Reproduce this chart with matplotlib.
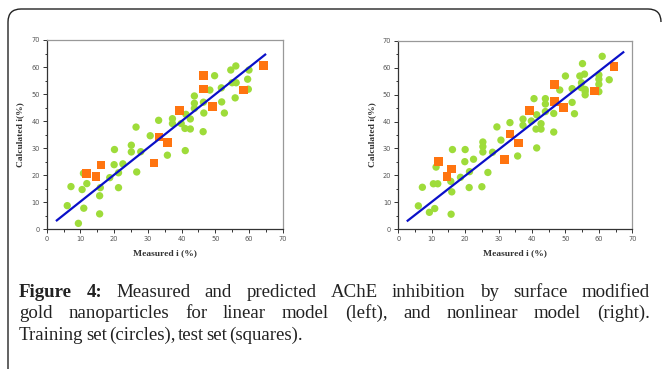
import numpy as np
import matplotlib.pyplot as plt
from matplotlib.path import Path
from matplotlib.patches import PathPatch
from matplotlib.ticker import MultipleLocator

# Datos (modelo lineal - izquierda)
lin_train_x = [6.1, 7.2, 9.4, 10.5, 11.0, 10.9, 11.9, 15.7, 15.7, 15.9, 18.7, 20.1, 20.0, 21.3, 21.3,
               22.6, 25.1, 25.1, 26.5, 26.7, 27.9, 30.7, 33.2, 35.8, 37.3, 37.3, 39.9, 41.0, 41.1, 41.3,
               42.6, 42.6, 43.8, 43.8, 43.8, 46.5, 46.6, 46.4, 48.4, 49.8, 51.8, 51.9, 52.7, 54.6, 55.0,
               56.1, 56.2, 55.9, 59.6, 59.8, 60.0]
lin_train_y = [8.75, 15.8, 2.2, 14.7, 7.8, 20.7, 16.9, 5.7, 12.4, 15.4, 19.1, 29.5, 23.9, 20.9, 15.4,
               24.2, 31.1, 28.6, 37.8, 21.2, 28.7, 34.6, 40.3, 27.4, 40.9, 39.1, 39.1, 37.3, 29.1, 42.5,
               40.8, 37.1, 49.3, 46.6, 44.7, 47.0, 43.0, 36.1, 51.5, 56.8, 52.3, 47.1, 43.0, 58.9, 54.2,
               60.4, 54.2, 48.6, 55.5, 51.8, 58.9]
lin_test_x = [11.9, 14.6, 16.1, 31.8, 33.3, 35.9, 39.3, 46.6, 46.6, 49.2, 58.4, 64.2]
lin_test_y = [20.7, 19.5, 23.8, 24.5, 34.1, 32.2, 44.0, 56.8, 51.9, 45.5, 51.5, 60.5]
lin_line_x = [3.0, 64.8]
lin_line_y = [3.3, 64.6]

# Modelo no lineal - derecha
nl_train_x = [6.0, 7.2, 9.3, 10.5, 10.9, 11.3, 11.8, 15.8, 16.0, 15.7, 16.2, 18.6, 19.9, 20.0, 21.2,
              21.3, 22.5, 25.0, 25.3, 25.3, 25.3, 26.8, 28.2, 29.5, 30.7, 33.4, 35.7, 37.3, 37.3, 39.8,
              40.6, 41.2, 41.4, 41.4, 42.7, 42.7, 44.0, 44.0, 44.0, 46.5, 46.5, 48.3, 50.0, 52.0, 52.0,
              52.7, 54.3, 55.1, 54.8, 54.7, 55.7, 55.9, 55.9, 55.9, 60.0, 60.0, 60.0, 60.0, 63.1, 61.0]
nl_train_y = [8.7, 15.6, 6.3, 16.9, 7.7, 23.1, 16.9, 5.6, 13.9, 17.8, 29.6, 19.3, 25.1, 29.6, 15.5,
              21.4, 26.0, 15.8, 32.4, 30.7, 28.7, 21.1, 28.6, 38.0, 33.1, 39.6, 27.2, 40.9, 38.6, 40.2,
              48.5, 37.2, 30.2, 42.5, 39.2, 37.2, 48.5, 46.5, 43.7, 43.0, 36.1, 51.7, 56.9, 52.2, 47.1,
              42.9, 56.9, 61.5, 54.4, 52.6, 57.6, 51.9, 51.1, 49.9, 57.3, 55.7, 53.8, 51.1, 55.5, 64.2]
nl_test_x = [12.0, 14.6, 16.0, 31.8, 33.4, 36.0, 39.3, 46.7, 46.7, 49.4, 58.6, 64.5]
nl_test_y = [25.1, 19.5, 22.4, 25.8, 35.4, 32.0, 44.0, 53.8, 47.5, 45.3, 51.3, 60.5]
nl_line_x = [2.8, 67.3]
nl_line_y = [3.2, 65.7]

W, H = 662, 369
fig = plt.figure(figsize=(W / 100, H / 100), dpi=100)


def px(x0, y0, x1, y1):
    # rectangulo en pixeles (arriba-izquierda) -> coordenadas de figura
    return [x0 / W, 1 - y1 / H, (x1 - x0) / W, (y1 - y0) / H]


def panel(rect, tx, ty, sx, sy, lx, ly):
    ax = fig.add_axes(rect)
    ax.scatter(tx, ty, s=28, color='#9edc3a', edgecolors='none', zorder=2)
    ax.scatter(sx, sy, s=40, marker='s', color='#ff7410', edgecolors='none', zorder=3)
    ax.plot(lx, ly, color='#0a10c8', lw=1.6, zorder=4)
    ax.set_xlim(0, 70)
    ax.set_ylim(0, 70)
    ax.xaxis.set_major_locator(MultipleLocator(10))
    ax.yaxis.set_major_locator(MultipleLocator(10))
    ax.xaxis.set_minor_locator(MultipleLocator(5))
    ax.yaxis.set_minor_locator(MultipleLocator(5))
    ax.tick_params(which='both', direction='out', colors='#333333', labelcolor='#555555',
                   labelsize=4.8, width=0.7, pad=2)
    ax.tick_params(which='major', length=3)
    ax.tick_params(which='minor', length=1.8)
    ax.tick_params(top=False, right=False)
    for s in ['left', 'bottom']:
        ax.spines[s].set_color('#333333')
        ax.spines[s].set_linewidth(0.9)
    for s in ['top', 'right']:
        ax.spines[s].set_color('#999999')
        ax.spines[s].set_linewidth(0.9)
    ax.set_xlabel('Measured i (%)', family='Liberation Serif', weight='bold', fontsize=6.8,
                  color='#333333', labelpad=5)
    ax.set_ylabel('Calculated i(%)', family='Liberation Serif', weight='bold', fontsize=6.8,
                  color='#333333', labelpad=5)
    return ax


panel(px(46.7, 40, 282.7, 229.3), lin_train_x, lin_train_y, lin_test_x, lin_test_y,
      lin_line_x, lin_line_y)
panel(px(398.3, 40.7, 632.3, 229.3), nl_train_x, nl_train_y, nl_test_x, nl_test_y,
      nl_line_x, nl_line_y)

# Marco redondeado (arriba, izquierda y esquina derecha)
def f(x, y):
    return (x / W, 1 - y / H)

verts = [f(8, 369), f(8, 22), f(8, 9), f(21, 9), f(648, 9), f(661, 9), f(661, 22)]
codes = [Path.MOVETO, Path.LINETO, Path.CURVE3, Path.CURVE3, Path.LINETO, Path.CURVE3, Path.CURVE3]
fig.add_artist(PathPatch(Path(verts, codes), fill=False, lw=1.0, edgecolor='#222222',
                         transform=fig.transFigure))

# Pie de figura justificado
fs = 13.6
fam = 'Liberation Serif'
renderer = fig.canvas.get_renderer()


def linea(palabras, y, justificar):
    x_ini, x_fin = 19, 650
    objs = []
    for w, b in palabras:
        t = fig.text(0, 1 - y / H, w, family=fam, fontsize=fs, color='#222222',
                     weight='bold' if b else 'normal', va='baseline')
        objs.append(t)
    anchos = [t.get_window_extent(renderer).width for t in objs]
    if justificar:
        hueco = (x_fin - x_ini - sum(anchos)) / (len(objs) - 1)
    else:
        hueco = fs * 100 / 72 * 0.12
    x = x_ini
    for t, a in zip(objs, anchos):
        t.set_x(x / W)
        x += a + hueco


l1 = [('Figure', True), ('4:', True)] + [(w, False) for w in
      'Measured and predicted AChE inhibition by surface modified'.split()]
l2 = [(w, False) for w in 'gold nanoparticles for linear model (left), and nonlinear model (right).'.split()]
l3 = [(w, False) for w in 'Training set (circles), test set (squares).'.split()]
linea(l1, 297, True)
linea(l2, 318, True)
linea(l3, 340, False)

fig.savefig('out.png', dpi=100)
